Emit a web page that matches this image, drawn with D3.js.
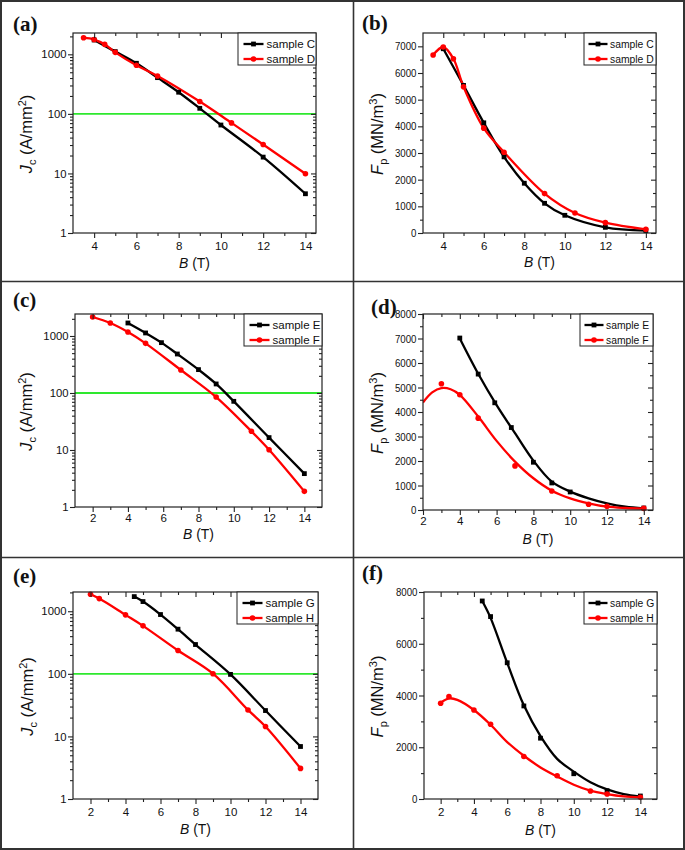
<!DOCTYPE html>
<html><head><meta charset="utf-8">
<script src="https://cdn.jsdelivr.net/npm/d3@7"></script>
<style>body{margin:0;background:#fff}svg{display:block}</style>
</head><body>
<svg id="c" width="685" height="850"></svg>
<script>
// ---------------- data ----------------
const B_C=[4,5,6,7,8,9,10,12,14];
const Jc_C=[1740,1110,707,406,231,124,65,18.8,4.56];
const Fp_C=[6910,5535,4132,2855,1866,1114,664,213,88];
const B_D=[3.5,4,4.5,5,6,7,9,10.5,12,14];
const Jc_D=[1900,1770,1470,1080,655,433,161,70.6,30.6,9.9];
const Fp_D=[6674,6975,6536,5485,3932,3030,1478,751,388,138];

const B_E=[4,5,5.9,6.8,8,9,10,12,14];
const Jc_E=[1690,1130,764,483,257,144,71.4,16.5,3.85];
const B_F=[2,3,4,5,7,9,11,12,14];
const Jc_F=[2154,1690,1175,743,253,85,21.3,10.1,1.88];
const B_E_fp=[4,5,5.9,6.8,8,9,10,14];
const Fp_E=[7019,5547,4375,3366,1949,1104,736,82];
const B_F_fp=[3,4,5,7,9,11,12,14];
const Fp_F=[5152,4702,3748,1799,777,232,150,68];
const B_E_fit=[4,5,6,7,8,9,10,11,12,13,14];
const Fp_E_fit=[7000,5560,4280,3135,2016,1158,750,477,273,136,68];
const B_F_fit=[2,2.5,3,3.5,4,5,6,7,8,9,10,11,12,13,14];
const Fp_F_fit=[4388,4800,4975,4930,4701,3815,2821,1976,1295,790,477,273,136,82,55];

const B_G=[4.5,5,6,7,8,10,12,14];
const Jc_G=[1714,1428,886,517,294,98,25.9,6.9];
const Fp_G=[7653,7050,5265,3596,2350,976,321,116];
const B_H=[2,2.5,4,5,7,9,11,12,14];
const Jc_H=[1868,1593,875,584,236,100.5,26.5,14.4,3.08];
const Fp_H=[3698,3955,3441,2889,1644,899,308,193,64];
const B_G_fit=[4.5,5,6,7,8,9,10,11,12,13,14];
const Fp_G_fit=[7650,7000,5260,3620,2430,1550,1060,650,370,190,95];
const B_H_fit=[2,2.5,3,4,5,6,7,8,9,10,11,12,13,14];
const Fp_H_fit=[3720,3890,3830,3440,2870,2200,1670,1220,870,550,320,190,100,60];

const xTicksA=[4,6,8,10,12,14];
const xMinorA=[5,7,9,11,13];
const xTicksC=[2,4,6,8,10,12,14];
const xMinorC=[3,5,7,9,11,13];
const logTicks=[1,10,100,1000];
const fpTicks7=[0,1000,2000,3000,4000,5000,6000,7000];
const fpTicks8=[0,1000,2000,3000,4000,5000,6000,7000,8000];
const fpTicks8b=[0,2000,4000,6000,8000];
const Jc_threshold=100;

const names={C:"sample C",D:"sample D",E:"sample E",F:"sample F",G:"sample G",H:"sample H"};

// ---------------- layout ----------------
const svg=d3.select('#c');
const FONT="'Liberation Sans', Arial, sans-serif";
const SERIF="'Liberation Serif', 'Times New Roman', serif";
const BLACK="#000", RED="#f00", GREEN="#2ee82e";

svg.append('rect').attr('x',1).attr('y',1).attr('width',683).attr('height',848)
  .attr('fill','none').attr('stroke','#333').attr('stroke-width',2);
svg.append('line').attr('x1',353.5).attr('x2',353.5).attr('y1',0).attr('y2',850).attr('stroke','#333').attr('stroke-width',1.6);
svg.append('line').attr('x1',0).attr('x2',685).attr('y1',281.5).attr('y2',281.5).attr('stroke','#333').attr('stroke-width',1.6);
svg.append('line').attr('x1',0).attr('x2',685).attr('y1',557.5).attr('y2',557.5).attr('stroke','#333').attr('stroke-width',1.6);

const zipS=(a,b)=>a.map((v,i)=>[v,b[i]]);

const panels=[
 {lab:'(a)',lx:13,ly:31,x0:73,x1:316,y0:33,y1:233,xdom:[3,14.5],log:true,ydom:[1,2280],
  xt:xTicksA,xm:xMinorA,yt:logTicks,ytx:32,xty:34.5,xpad:4.2,lw:78,
  series:[{n:names.C,c:BLACK,m:'sq',pts:zipS(B_C,Jc_C)},{n:names.D,c:RED,m:'ci',pts:zipS(B_D,Jc_D)}]},
 {lab:'(b)',lx:362,ly:30,x0:423,x1:656,y0:33,y1:233,xdom:[3,14.5],log:false,ydom:[0,7500],
  xt:xTicksA,xm:xMinorA,yt:fpTicks7,ymStep:500,ytx:383,xty:33.5,xpad:4.2,lw:72,
  series:[{n:names.C,c:BLACK,m:'sq',pts:zipS(B_C,Fp_C)},{n:names.D,c:RED,m:'ci',pts:zipS(B_D,Fp_D)}]},
 {lab:'(c)',lx:13,ly:307,x0:75,x1:322,y0:314,y1:507,xdom:[1,15],log:true,ydom:[1,2430],
  xt:xTicksC,xm:xMinorC,yt:logTicks,ytx:32,xty:32,xpad:1.8,lw:78,
  series:[{n:names.E,c:BLACK,m:'sq',pts:zipS(B_E,Jc_E)},{n:names.F,c:RED,m:'ci',pts:zipS(B_F,Jc_F)}]},
 {lab:'(d)',lx:371,ly:314,x0:423,x1:653,y0:314,y1:510,xdom:[2,14.5],log:false,ydom:[0,8000],
  xt:xTicksC,xm:xMinorC,yt:fpTicks8,ymStep:500,ytx:382.5,xty:34,xpad:1.8,lw:73,
  series:[{n:names.E,c:BLACK,m:'sq',pts:zipS(B_E_fp,Fp_E),fit:zipS(B_E_fit,Fp_E_fit)},
          {n:names.F,c:RED,m:'ci',pts:zipS(B_F_fp,Fp_F),fit:zipS(B_F_fit,Fp_F_fit)}]},
 {lab:'(e)',lx:13,ly:583,x0:73,x1:318,y0:592,y1:799,xdom:[1,15],log:true,ydom:[1,2030],
  xt:xTicksC,xm:xMinorC,yt:logTicks,ytx:32.5,xty:35,xpad:4.2,lw:81,
  series:[{n:names.G,c:BLACK,m:'sq',pts:zipS(B_G,Jc_G)},{n:names.H,c:RED,m:'ci',pts:zipS(B_H,Jc_H)}]},
 {lab:'(f)',lx:362,ly:580,x0:424,x1:657,y0:592,y1:799,xdom:[1,15],log:false,ydom:[0,8000],
  xt:xTicksC,xm:xMinorC,yt:fpTicks8b,ymStep:1000,ytx:383,xty:35.5,xpad:4.2,lw:73,
  series:[{n:names.G,c:BLACK,m:'sq',pts:zipS(B_G,Fp_G),fit:zipS(B_G_fit,Fp_G_fit)},
          {n:names.H,c:RED,m:'ci',pts:zipS(B_H,Fp_H),fit:zipS(B_H_fit,Fp_H_fit)}]}
];

function marker(g,type,cx,cy,color){
  if(type==='sq') g.append('rect').attr('x',cx-2.4).attr('y',cy-2.4).attr('width',4.8).attr('height',4.8).attr('fill',color);
  else g.append('circle').attr('cx',cx).attr('cy',cy).attr('r',2.8).attr('fill',color);
}

function styleAxis(a,fs){
  a.select('.domain').remove();
  a.selectAll('line').attr('stroke','#222').attr('stroke-width',1.1);
  a.selectAll('text').attr('font-family',FONT).attr('font-size',fs).attr('fill','#111');
  return a;
}

panels.forEach((p,pi)=>{
  const g=svg.append('g');
  const x=d3.scaleLinear().domain(p.xdom).range([p.x0,p.x1]);
  const y=(p.log?d3.scaleLog():d3.scaleLinear()).domain(p.ydom).range([p.y1,p.y0]);
  const clipId='clip'+pi;
  g.append('clipPath').attr('id',clipId).append('rect')
    .attr('x',p.x0).attr('y',p.y0).attr('width',p.x1-p.x0).attr('height',p.y1-p.y0);
  const plot=g.append('g').attr('clip-path',`url(#${clipId})`);

  if(p.log){
    plot.append('line').attr('x1',p.x0).attr('x2',p.x1).attr('y1',y(Jc_threshold)).attr('y2',y(Jc_threshold))
      .attr('stroke',GREEN).attr('stroke-width',1.8);
  }
  const line=d3.line().x(d=>x(d[0])).y(d=>y(d[1])).curve(d3.curveCatmullRom.alpha(0.5));
  p.series.forEach(s=>{
    plot.append('path').datum(s.fit||s.pts).attr('d',line)
      .attr('fill','none').attr('stroke',s.c).attr('stroke-width',2.3).attr('stroke-linejoin','round');
  });
  const mg=g.append('g');
  p.series.forEach(s=>{ s.pts.forEach(d=>marker(mg,s.m,x(d[0]),y(d[1]),s.c)); });

  g.append('rect').attr('x',p.x0).attr('y',p.y0).attr('width',p.x1-p.x0).attr('height',p.y1-p.y0)
    .attr('fill','none').attr('stroke','#222').attr('stroke-width',1.2);

  styleAxis(g.append('g').attr('transform',`translate(0,${p.y1})`)
    .call(d3.axisBottom(x).tickValues(p.xt).tickSize(5).tickSizeOuter(0).tickPadding(p.xpad).tickFormat(d3.format('d'))),11.5);
  styleAxis(g.append('g').attr('transform',`translate(0,${p.y1})`)
    .call(d3.axisBottom(x).tickValues(p.xm).tickSize(3).tickSizeOuter(0).tickFormat('')),11);
  styleAxis(g.append('g').attr('transform',`translate(0,${p.y0})`)
    .call(d3.axisTop(x).tickValues(p.xt).tickSize(-5).tickSizeOuter(0).tickFormat('')),11);
  styleAxis(g.append('g').attr('transform',`translate(0,${p.y0})`)
    .call(d3.axisTop(x).tickValues(p.xm).tickSize(-3).tickSizeOuter(0).tickFormat('')),11);

  let ym;
  if(p.log){
    ym=[];
    [1,10,100,1000].forEach(dec=>{for(let k=2;k<=9;k++){const v=k*dec; if(v<p.ydom[1]) ym.push(v);}});
  } else {
    ym=d3.range(p.ymStep,p.ydom[1]+1,p.ymStep).filter(v=>!p.yt.includes(v) && v<p.ydom[1]);
  }
  const yl=styleAxis(g.append('g').attr('transform',`translate(${p.x0},0)`)
    .call(d3.axisLeft(y).tickValues(p.yt).tickSize(5).tickSizeOuter(0).tickPadding(1.5).tickFormat(d3.format('d'))),11.3);
  if(!p.log){
    yl.selectAll('text').attr('x',null).attr('transform','translate(-6.5,0) scale(0.86,1)');
  }
  styleAxis(g.append('g').attr('transform',`translate(${p.x0},0)`)
    .call(d3.axisLeft(y).tickValues(ym).tickSize(3).tickSizeOuter(0).tickFormat('')),11);
  styleAxis(g.append('g').attr('transform',`translate(${p.x1},0)`)
    .call(d3.axisRight(y).tickValues(p.yt).tickSize(-5).tickSizeOuter(0).tickFormat('')),11);
  styleAxis(g.append('g').attr('transform',`translate(${p.x1},0)`)
    .call(d3.axisRight(y).tickValues(ym).tickSize(-3).tickSizeOuter(0).tickFormat('')),11);

  const xt=g.append('text').attr('transform',`translate(${(p.x0+p.x1)/2},${p.y1+p.xty}) scale(0.9,1)`)
    .attr('text-anchor','middle').attr('font-family',FONT).attr('font-size',15.5).attr('fill','#111');
  xt.append('tspan').attr('font-style','italic').text('B');
  xt.append('tspan').text(' (T)');

  const yt=g.append('text').attr('transform',`translate(${p.ytx},${(p.y0+p.y1)/2+1}) rotate(-90)`)
    .attr('text-anchor','middle').attr('font-family',FONT).attr('font-size',16.5).attr('fill','#111');
  if(p.log){
    yt.append('tspan').attr('font-style','italic').text('J');
    yt.append('tspan').attr('font-size',11).attr('dy',4).text('c');
    yt.append('tspan').attr('dy',-4).text(' (A/mm');
    yt.append('tspan').attr('font-size',11).attr('dy',-6).text('2');
    yt.append('tspan').attr('dy',6).text(')');
  } else {
    yt.append('tspan').attr('font-style','italic').text('F');
    yt.append('tspan').attr('font-size',11).attr('dy',4).text('p');
    yt.append('tspan').attr('dy',-4).text(' (MN/m');
    yt.append('tspan').attr('font-size',11).attr('dy',-6).text('3');
    yt.append('tspan').attr('dy',6).text(')');
  }

  g.append('text').attr('x',p.lx).attr('y',p.ly).attr('font-family',SERIF).attr('font-weight','bold')
    .attr('font-size',21).attr('fill','#111').text(p.lab);

  const lg=g.append('g').attr('transform',`translate(${p.x1-p.lw},${p.y0})`);
  lg.append('rect').attr('x',0).attr('y',0).attr('width',p.lw).attr('height',32)
    .attr('fill','#fff').attr('stroke','#222').attr('stroke-width',1);
  const comp=p.log?1:0.9;
  const lx0=p.log?5.5:4.5, lx1=p.log?25.5:23.5, tx=p.log?28.5:26;
  p.series.forEach((s,i)=>{
    const ry=11+i*15;
    lg.append('line').attr('x1',lx0).attr('x2',lx1).attr('y1',ry).attr('y2',ry).attr('stroke',s.c).attr('stroke-width',2.3);
    marker(lg,s.m,(lx0+lx1)/2,ry,s.c);
    lg.append('text').attr('transform',`translate(${tx},${ry+4}) scale(${comp},1)`)
      .attr('font-family',FONT).attr('font-size',11.5).attr('fill','#111').text(s.n);
  });
});
</script>
</body></html>
